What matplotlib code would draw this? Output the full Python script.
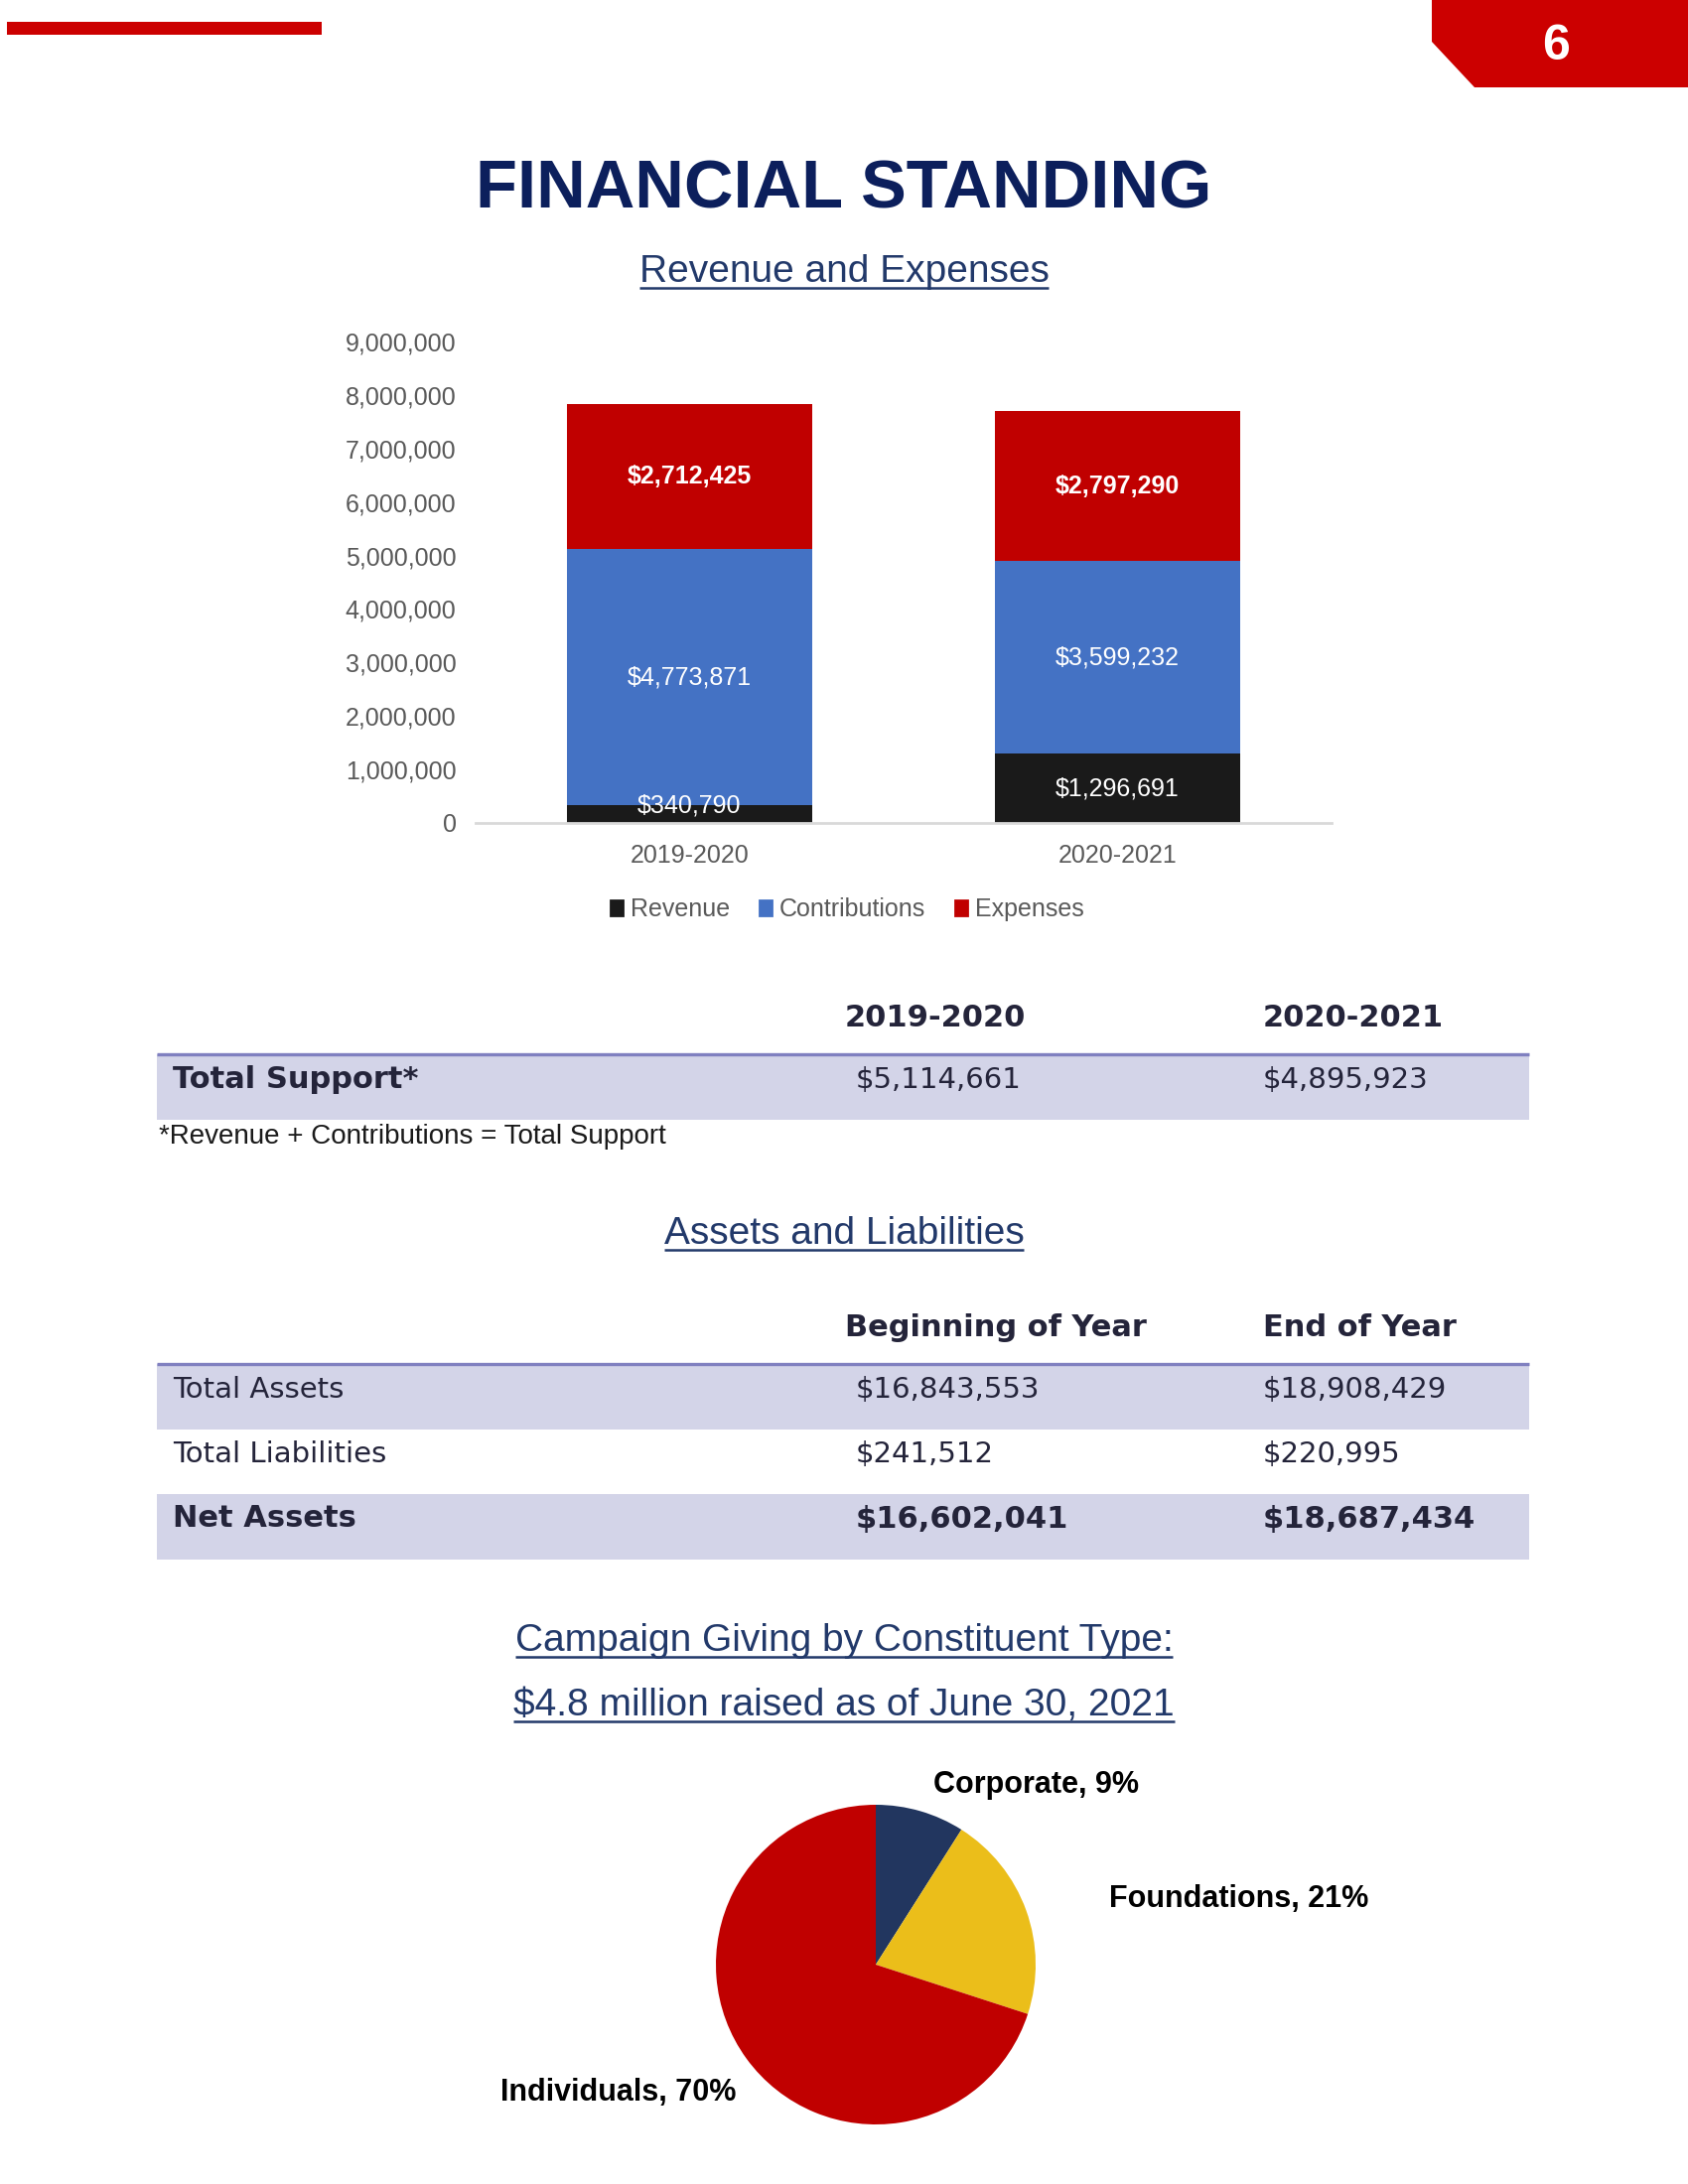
#!/usr/bin/env python3
"""
Financial standing page: stacked bars, two small tables and a giving pie
"""
import matplotlib
matplotlib.use('Agg')
import matplotlib.pyplot as plt
from matplotlib.patches import Rectangle, Polygon, Patch
from matplotlib.ticker import StrMethodFormatter

plt.rcParams['font.family'] = ['Liberation Sans', 'DejaVu Sans']

# Revenue and expenses (bar chart)
years = ['2019-2020', '2020-2021']
revenue = [340790, 1296691]
contributions = [4773871, 3599232]
expenses = [2712425, 2797290]
series_names = ['Revenue', 'Contributions', 'Expenses']

# Assets and liabilities table
asset_cols = ['Beginning of Year', 'End of Year']
total_assets = [16843553, 18908429]
total_liabilities = [241512, 220995]

# Campaign giving (pie)
giving_types = ['Corporate', 'Foundations', 'Individuals']
giving_share = [9, 21, 70]

# colours
RED = '#cc0000'
NAVY = '#0c1f5c'
SUB_BLUE = '#22396a'
TABLE_TXT = '#24243a'
BAND = '#d3d4e8'
RULE = '#8080c0'
series_colors = ['#1a1a1a', '#4472c4', '#c00000']
pie_colors = ['#22365f', '#ebbe1a', '#c00000']

fig = plt.figure(figsize=(8.5, 11), dpi=200)

# page layer in pixel coordinates (y down)
page = fig.add_axes([0, 0, 1, 1])
page.set_xlim(0, 1700)
page.set_ylim(2200, 0)
page.axis('off')

# header decorations
page.add_patch(Rectangle((7, 22), 317, 13, color=RED, lw=0))
page.add_patch(Polygon([(1442, 0), (1700, 0), (1700, 88), (1485, 88), (1442, 42)],
                       closed=True, color=RED, lw=0))
page.text(1567, 60, '6', ha='center', va='baseline', fontsize=18,
          color='white', fontweight='bold')

page.text(850, 210, 'FINANCIAL STANDING', ha='center', va='baseline',
          fontsize=24.7, fontweight='bold', color=NAVY)

renderer = fig.canvas.get_renderer()


def underlined(x, y, s, ha='center'):
    t = page.text(x, y, s, ha=ha, va='baseline', fontsize=14, color=SUB_BLUE)
    bb = t.get_window_extent(renderer=renderer).transformed(page.transData.inverted())
    page.plot([bb.x0, bb.x1], [y + 6, y + 6], color=SUB_BLUE, lw=0.9,
              solid_capstyle='butt')


underlined(850, 284, 'Revenue and Expenses')

# ---- stacked bar chart ----
ax = fig.add_axes([479 / 1700, 1 - 829 / 2200, 862 / 1700, 485 / 2200])
x = range(len(years))
w = 0.573
bottoms = [0] * len(years)
containers = []
for name, vals, col in zip(series_names, [revenue, contributions, expenses], series_colors):
    c = ax.bar(x, vals, w, bottom=bottoms, color=col, label=name, lw=0)
    containers.append((c, vals, name))
    bottoms = [b + v for b, v in zip(bottoms, vals)]

ax.set_xlim(-0.5, 1.5)
ax.set_ylim(0, 9000000)

labels = []
for c, vals, name in containers:
    labels += ax.bar_label(c, labels=[f'${v:,}' for v in vals], label_type='center',
                           color='white', fontsize=9,
                           fontweight='bold' if name == 'Expenses' else 'normal')

# keep labels inside the plot area, like the spreadsheet does
ax_box = ax.get_window_extent(renderer=renderer)
for t in labels:
    bb = t.get_window_extent(renderer=renderer)
    if bb.y0 < ax_box.y0 + 6:
        shift_px = ax_box.y0 + 6 - bb.y0
        t.xyann = (t.xyann[0], t.xyann[1] + shift_px * 72 / 200)

ax.set_yticks(range(0, 9000001, 1000000))
ax.yaxis.set_major_formatter(StrMethodFormatter('{x:,.0f}'))
ax.set_xticks(list(x))
ax.set_xticklabels(years)
ax.tick_params(axis='both', length=0, labelsize=9, labelcolor='#595959')
ax.tick_params(axis='y', pad=7)
ax.tick_params(axis='x', pad=7.5)
for s in ['top', 'right', 'left']:
    ax.spines[s].set_visible(False)
ax.spines['bottom'].set_color('#d9d9d9')
ax.spines['bottom'].set_linewidth(1)

handles = [Patch(color=c, label=n) for n, c in zip(series_names, series_colors)]
ax.legend(handles=handles, loc='center', bbox_to_anchor=(0.434, -0.18), ncol=3,
          frameon=False, fontsize=9, labelcolor='#595959', handlelength=0.5,
          handleheight=0.5, handletextpad=0.3, columnspacing=1.2)

# ---- tables ----
LABEL_X = 174
HEAD_X = [851, 1272]
VAL_X = [862, 1272]
BAND_X0, BAND_X1 = 158, 1540
ROW_H = 65.5
BASE_OFF = 33.5


def money(v):
    return f'${v:,}'


def table(header_y, cols, rows):
    for hx, h in zip(HEAD_X, cols):
        page.text(hx, header_y, h, ha='left', va='baseline', fontsize=11,
                  fontweight='bold', color=TABLE_TXT, family='DejaVu Sans')
    top = header_y + 28
    for i, (label, vals, label_bold, vals_bold, shaded) in enumerate(rows):
        y0 = top + i * ROW_H
        if shaded:
            page.add_patch(Rectangle((BAND_X0, y0), BAND_X1 - BAND_X0, ROW_H,
                                     color=BAND, lw=0))
        page.text(LABEL_X, y0 + BASE_OFF, label, ha='left', va='baseline',
                  fontsize=11 if label_bold else 10.5,
                  fontweight='bold' if label_bold else 'normal',
                  color=TABLE_TXT, family='DejaVu Sans')
        for vx, v in zip(VAL_X, vals):
            page.text(vx, y0 + BASE_OFF, money(v), ha='left', va='baseline',
                      fontsize=11 if vals_bold else 10.5,
                      fontweight='bold' if vals_bold else 'normal',
                      color=TABLE_TXT, family='DejaVu Sans')
    page.plot([BAND_X0, BAND_X1], [top, top], color=RULE, lw=1.2,
              solid_capstyle='butt')


total_support = [r + c for r, c in zip(revenue, contributions)]
table(1034, years, [('Total Support*', total_support, True, False, True)])
page.text(160, 1152, '*Revenue + Contributions = Total Support', ha='left',
          va='baseline', fontsize=10, color='#1a1a1a')

underlined(850, 1253, 'Assets and Liabilities')

net_assets = [a - l for a, l in zip(total_assets, total_liabilities)]
table(1346, asset_cols, [
    ('Total Assets', total_assets, False, False, True),
    ('Total Liabilities', total_liabilities, False, False, False),
    ('Net Assets', net_assets, True, True, True),
])

underlined(850, 1663, 'Campaign Giving by Constituent Type:')
underlined(850, 1728, '$4.8 million raised as of June 30, 2021')

# ---- pie ----
cx, cy, r = 882, 1979, 161
pax = fig.add_axes([(cx - r) / 1700, 1 - (cy + r) / 2200, 2 * r / 1700, 2 * r / 2200])
pax.pie(giving_share, colors=pie_colors, startangle=90, counterclock=False,
        wedgeprops=dict(linewidth=0))
pax.set_xlim(-1, 1)
pax.set_ylim(-1, 1)
pax.set_aspect('equal')

label_pos = [(940, 1798, 'left'), (1117, 1913, 'left'), (741, 2108, 'right')]
for (lx, ly, ha), name, pct in zip(label_pos, giving_types, giving_share):
    page.text(lx, ly, f'{name}, {pct}%', ha=ha, va='center', fontsize=11,
              fontweight='bold', color='black')

fig.savefig('out.png', dpi=200)
